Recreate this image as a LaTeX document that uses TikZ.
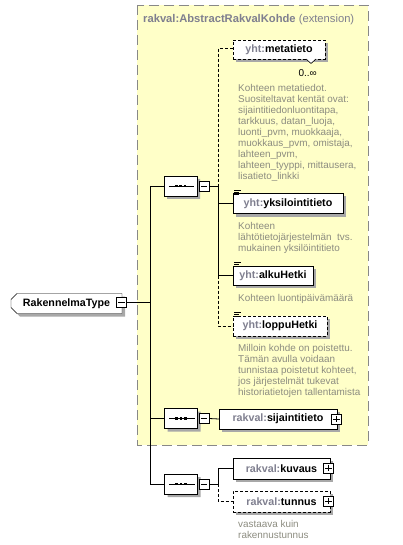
\documentclass[tikz,border=0pt]{standalone}
\usepackage{fontspec}
\setmainfont{Liberation Sans}
\usetikzlibrary{shapes.misc,shadows,calc}
\definecolor{pfxgray}{HTML}{7F7F8F}
\definecolor{descgray}{HTML}{8C8C80}
\definecolor{yellowbg}{HTML}{FFFFC8}
\definecolor{shadowgray}{HTML}{A8A8A8}
\definecolor{framegray}{HTML}{888888}
\newcommand\pfx[1]{\textcolor{pfxgray}{#1}}
\tikzset{
  shd/.style={drop shadow={shadow xshift=3pt,shadow yshift=-3pt,fill=shadowgray,opacity=1}},
  elem/.style={draw=black,fill=white,rectangle,shd,minimum height=20pt,inner sep=0pt,font=\fontsize{10.7}{12}\selectfont\bfseries},
  optelem/.style={elem,dash pattern=on 3pt off 2pt},
  seqbox/.style={draw=black,fill=white,chamfered rectangle,chamfered rectangle sep=4pt,shd,minimum width=33pt,minimum height=20pt,inner sep=0pt},
  pmbox/.style={draw=black,fill=white,rectangle,minimum size=10pt,inner sep=0pt},
  desc/.style={align=left,inner sep=0pt,anchor=north west,text=descgray,font=\fontsize{9.9}{11}\selectfont},
  conn/.style={draw=black,line width=0.8pt},
  optconn/.style={conn,dash pattern=on 3pt off 2pt},
}
\newcommand\seqsym[1]{%
  \draw[line width=0.8pt] ($(#1.west)+(5,0)$) -- ($(#1.east)+(-3,0)$);
  \foreach \dx in {-4.3,0,4.3}{\fill ($(#1.center)+(\dx-1.3,-1.3)$) rectangle ++(2.6,2.6);}
}
\newcommand\minussym[1]{\draw[line width=0.7pt] ($(#1.west)+(2,0)$) -- ($(#1.east)+(-2,0)$);}
\newcommand\plussym[1]{\draw[line width=0.7pt] ($(#1.west)+(2,0)$) -- ($(#1.east)+(-2,0)$); \draw[line width=0.7pt] ($(#1.north)+(0,2)$) -- ($(#1.south)+(0,-2)$);}
\newcommand\simpleicon[1]{%
  \draw[line width=0.7pt] ($(#1.north west)+(1.5,-3)$) -- ++(7,0);
  \draw[line width=0.7pt] ($(#1.north west)+(1.5,-1)$) -- ++(5,0);
  \draw[line width=0.7pt] ($(#1.north west)+(1.5,1)$) -- ++(5,0);
}
\begin{document}
\begin{tikzpicture}[x=1pt,y=-1pt]
\useasboundingbox (0,0) rectangle (403,545);
% extension frame
\filldraw[fill=yellowbg,draw=framegray,line width=0.8pt,dash pattern=on 10pt off 5pt] (137,5) rectangle (368,445);
\node[anchor=base west,inner sep=0pt,text=pfxgray,font=\fontsize{11.2}{12}\selectfont] (title) at (143,23) {\textbf{rakval:AbstractRakvalKohde} (extension)};

% root
\node[elem,chamfered rectangle,chamfered rectangle sep=3pt,chamfered rectangle corners={north west,south west},minimum width=111pt,minimum height=20pt] (rak) at (66.5,303.5) {RakennelmaType\hspace{10pt}};
\node[pmbox] (rakm) at (121.5,302.5) {};
\minussym{rakm}

% sequences
\node[seqbox] (s1) at (180.5,186) {};
\seqsym{s1}
\node[pmbox] (s1m) at (204,186) {};
\minussym{s1m}
\node[seqbox] (s2) at (181,418.5) {};
\seqsym{s2}
\node[pmbox] (s2m) at (204,418.5) {};
\minussym{s2m}
\node[seqbox] (s3) at (181,484) {};
\seqsym{s3}
\node[pmbox] (s3m) at (204,484) {};
\minussym{s3m}

% elements
\node[optelem,minimum width=92pt,minimum height=19pt] (meta) at (279,50) {\pfx{yht:}metatieto};
\filldraw[fill=white,draw=black,line width=0.6pt] (306,59) -- (311,63.5) -- (316,59);
\node[anchor=base east,inner sep=0pt,font=\fontsize{10}{12}\selectfont] (metaocc) at (317,76.5) {0..∞};
\node[desc] (metad) at (238,84.5) {Kohteen metatiedot.\\Suositeltavat kentät ovat:\\sijaintitiedonluontitapa,\\tarkkuus, datan\_luoja,\\luonti\_pvm, muokkaaja,\\muokkaus\_pvm, omistaja,\\lahteen\_pvm,\\lahteen\_tyyppi, mittausera,\\lisatieto\_linkki};

\node[elem,minimum width=110pt] (yks) at (288,203.5) {\pfx{yht:}yksilointitieto};
\simpleicon{yks}
\node[desc] (yksd) at (238,222.5) {Kohteen\\lähtötietojärjestelmän\ \ tvs.\\mukainen yksilöintitieto};

\node[elem,minimum width=80pt,minimum height=19pt] (alku) at (273,275.5) {\pfx{yht:}alkuHetki};
\simpleicon{alku}
\node[desc] (alkud) at (238,294.5) {Kohteen luontipäivämäärä};

\node[optelem,minimum width=94pt] (loppu) at (280,326) {\pfx{yht:}loppuHetki};
\simpleicon{loppu}
\node[desc] (loppud) at (238,344.5) {Milloin kohde on poistettu.\\Tämän avulla voidaan\\tunnistaa poistetut kohteet,\\jos järjestelmät tukevat\\historiatietojen tallentamista};

\node[elem,minimum width=118pt] (sij) at (278,419) {\pfx{rakval:}sijaintitieto\hspace{8pt}};
\node[pmbox] (sijp) at (336.5,419) {};
\plussym{sijp}

\node[elem,minimum width=97pt,minimum height=21pt] (kuv) at (281.5,468.5) {\pfx{rakval:}kuvaus\hspace{8pt}};
\node[pmbox] (kuvp) at (328.5,468) {};
\plussym{kuvp}

\node[optelem,minimum width=97pt,minimum height=21pt] (tun) at (281.5,501.5) {\pfx{rakval:}tunnus\hspace{8pt}};
\node[pmbox] (tunp) at (328.5,501) {};
\plussym{tunp}
\node[desc] (tund) at (238,520.5) {vastaava kuin\\rakennustunnus};

% connectors
\coordinate (v0a) at (150,186);
\coordinate (v0b) at (150,484);
\coordinate (v0r) at (150,302.5);
\draw[conn] (rakm.east) -- (v0r);
\draw[conn] (v0a) -- (v0b);
\draw[conn] (v0a) -- (s1.west);
\draw[conn] (150,418.5) -- (s2.west);
\draw[conn] (v0b) -- (s3.west);

\coordinate (c1) at (218,186);
\draw[conn] (s1m.east) -- (c1);
\draw[optconn] (meta.west |- 0,48.5) -| (c1);
\draw[conn] (c1) |- (yks.west);
\draw[conn] (c1) |- (alku.west);
\draw[optconn] (218,275.5) |- (loppu.west);

\draw[conn] (s2m.east) -- (sij.west);

\coordinate (c3) at (218,484);
\draw[conn] (s3m.east) -- (c3);
\draw[conn] (c3) |- (kuv.west);
\draw[optconn] (c3) |- (tun.west);
\end{tikzpicture}
\end{document}
